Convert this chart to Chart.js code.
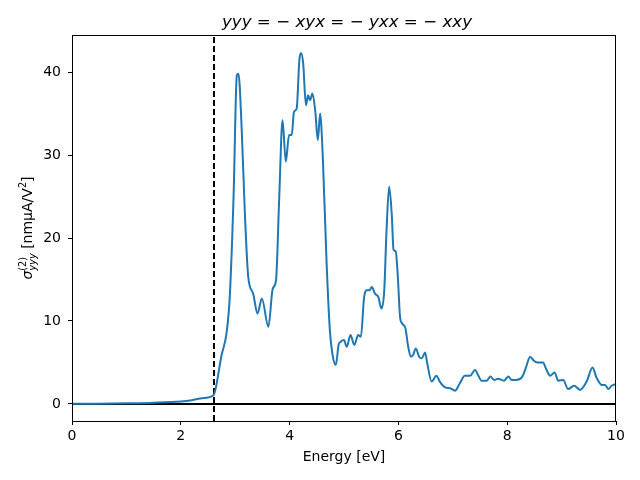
<!DOCTYPE html>
<html>
<head>
<meta charset="utf-8">
<script src="https://cdn.jsdelivr.net/npm/chart.js@4.4.0/dist/chart.umd.min.js"></script>
<style>
  html, body { margin: 0; padding: 0; background: #fff; }
</style>
</head>
<body>
<canvas id="chart" width="640" height="480"></canvas>
<script>
// photon energy [eV] and sigma^(2)_yyy [nm uA/V^2]
const energy = [
  0, 0.5, 1.0, 1.5, 2.0, 2.2, 2.4, 2.6, 2.75, 2.84,
  2.9, 2.97, 3.03, 3.06, 3.12, 3.18, 3.24, 3.33, 3.41, 3.49,
  3.61, 3.69, 3.75, 3.81, 3.87, 3.93, 3.99, 4.04, 4.08, 4.13,
  4.18, 4.21, 4.25, 4.30, 4.34, 4.375, 4.42, 4.47, 4.52, 4.56,
  4.61, 4.68, 4.74, 4.79, 4.85, 4.90, 4.94, 5.00, 5.05, 5.12,
  5.19, 5.26, 5.31, 5.37, 5.42, 5.47, 5.51, 5.57, 5.63, 5.69,
  5.74, 5.78, 5.83, 5.88, 5.91, 5.95, 5.99, 6.03, 6.07, 6.13,
  6.18, 6.23, 6.27, 6.32, 6.38, 6.43, 6.49, 6.53, 6.61, 6.70,
  6.76, 6.86, 6.95, 7.04, 7.13, 7.22, 7.32, 7.41, 7.47, 7.53,
  7.62, 7.69, 7.76, 7.83, 7.94, 8.02, 8.08, 8.16, 8.27, 8.35,
  8.42, 8.49, 8.55, 8.66, 8.71, 8.79, 8.87, 8.94, 9.03, 9.12,
  9.23, 9.34, 9.46, 9.57, 9.64, 9.74, 9.80, 9.86, 9.92, 10.0
];
const sigma = [
  0.02, 0.04, 0.08, 0.15, 0.3, 0.45, 0.7, 1.05, 5.9, 8.5,
  12.9, 25, 39.6, 39.8, 33, 22.6, 15.3, 13.3, 10.9, 12.7,
  9.3, 13.9, 14.9, 25, 34.2, 29.2, 32.4, 32.4, 35.2, 35.6,
  41.5, 42.3, 41, 36, 37.2, 36.6, 37.4, 35.4, 31.8, 35,
  29.8, 17, 8.9, 5.9, 4.7, 7.1, 7.5, 7.7, 6.9, 8.3,
  7.1, 8.3, 8.1, 12.9, 13.7, 13.7, 14.1, 13.3, 12.9, 11.5,
  13.7, 20.6, 26.2, 22.6, 18.6, 18.4, 15.3, 10.5, 9.7, 9.1,
  6.9, 5.7, 5.9, 6.7, 5.7, 5.5, 6.2, 4.9, 2.7, 3.4,
  2.7, 2.0, 1.9, 1.6, 2.5, 3.4, 3.4, 4.1, 3.4, 2.8,
  2.8, 3.3, 2.9, 3.05, 2.8, 3.3, 2.9, 2.9, 3.2, 4.5,
  5.7, 5.2, 5.0, 5.0, 4.3, 3.4, 3.8, 2.8, 2.9, 1.8,
  2.2, 1.7, 2.7, 4.4, 3.2, 2.3, 2.3, 1.8, 2.2, 2.4
];
const gapEnergy = 2.61;
const xTicks = [0, 2, 4, 6, 8, 10];
const yTicks = [0, 10, 20, 30, 40];
const xRange = [0, 10];
const yRange = [-2.05, 44.46];

const FONT = "'DejaVu Sans', sans-serif";

// title, y label and the box around the axes
const decorations = {
  id: "decorations",
  afterDraw(chart) {
    const { ctx, chartArea: a } = chart;
    ctx.save();
    ctx.strokeStyle = "#000";
    ctx.lineWidth = 1;
    ctx.strokeRect(Math.round(a.left) + 0.5, Math.round(a.top) + 0.5,
      Math.round(a.right - a.left) - 1, Math.round(a.bottom - a.top));

    ctx.fillStyle = "#000";
    ctx.textBaseline = "alphabetic";
    ctx.textAlign = "center";
    ctx.font = "italic 16.7px " + FONT;
    ctx.fillText("yyy = − xyx = − yxx = − xxy", (a.left + a.right) / 2 + 3, 27);

    // sigma^(2)_yyy [nmμA/V^2], rotated
    const big = "14px " + FONT, bigI = "italic 14px " + FONT;
    const sm = "9.8px " + FONT, smI = "italic 9.8px " + FONT;
    const parts = [
      { t: "σ", f: bigI, dy: 0 },
      { t: "(2)", f: sm, dy: -6, stack: true },
      { t: "yyy", f: smI, dy: 3.5 },
      { t: " [nmμA/V", f: big, dy: 0 },
      { t: "2", f: sm, dy: -6 },
      { t: "]", f: big, dy: 0 }
    ];
    ctx.textAlign = "left";
    let total = 0;
    for (let i = 0; i < parts.length; i++) {
      const p = parts[i];
      ctx.font = p.f;
      p.w = ctx.measureText(p.t).width;
    }
    for (let i = 0; i < parts.length; i++) {
      const p = parts[i];
      if (p.stack) { total += Math.max(p.w, parts[i + 1].w); i++; }
      else total += p.w;
    }
    ctx.translate(27, (a.top + a.bottom) / 2);
    ctx.rotate(-Math.PI / 2);
    let x = -total / 2;
    for (let i = 0; i < parts.length; i++) {
      const p = parts[i];
      ctx.font = p.f;
      ctx.fillText(p.t, x, 5 + p.dy);
      if (p.stack) {
        const q = parts[i + 1];
        ctx.font = q.f;
        ctx.fillText(q.t, x, 5 + q.dy);
        x += Math.max(p.w, q.w);
        i++;
      } else {
        x += p.w;
      }
    }
    ctx.restore();
  }
};

const tickFont = { family: FONT, size: 14 };

new Chart(document.getElementById("chart"), {
  type: "scatter",
  data: {
    datasets: [
      {
        data: energy.map((e, i) => ({ x: e, y: sigma[i] })),
        showLine: true,
        borderColor: "#1f77b4",
        borderWidth: 2,
        pointRadius: 0,
        tension: 0.4,
        cubicInterpolationMode: "monotone"
      },
      {
        data: [{ x: xRange[0], y: 0 }, { x: xRange[1], y: 0 }],
        showLine: true,
        borderColor: "#000",
        borderWidth: 2,
        pointRadius: 0
      },
      {
        data: [{ x: gapEnergy, y: yRange[0] }, { x: gapEnergy, y: yRange[1] }],
        showLine: true,
        borderColor: "#000",
        borderWidth: 2,
        borderDash: [6, 3],
        pointRadius: 0
      }
    ]
  },
  options: {
    responsive: false,
    animation: false,
    events: [],
    layout: { padding: { left: 0, right: 24, top: 35, bottom: 0 } },
    plugins: { legend: { display: false }, tooltip: { enabled: false } },
    scales: {
      x: {
        type: "linear",
        min: xRange[0],
        max: xRange[1],
        afterBuildTicks: s => { s.ticks = xTicks.map(v => ({ value: v })); },
        afterFit: s => { s.height = 59; },
        ticks: { color: "#000", font: tickFont, padding: 3, maxRotation: 0, autoSkip: false },
        grid: { drawOnChartArea: false, drawTicks: true, tickLength: 4, color: "#000" },
        border: { display: false },
        title: {
          display: true, text: "Energy [eV]", color: "#000",
          font: tickFont, padding: { top: 0, bottom: 14.6 }
        }
      },
      y: {
        type: "linear",
        min: yRange[0],
        max: yRange[1],
        afterBuildTicks: s => { s.ticks = yTicks.map(v => ({ value: v })); },
        afterFit: s => { s.width = 72; },
        ticks: { color: "#000", font: tickFont, padding: 7, autoSkip: false },
        grid: { drawOnChartArea: false, drawTicks: true, tickLength: 4, color: "#000" },
        border: { display: false }
      }
    }
  },
  plugins: [decorations]
});
</script>
</body>
</html>
